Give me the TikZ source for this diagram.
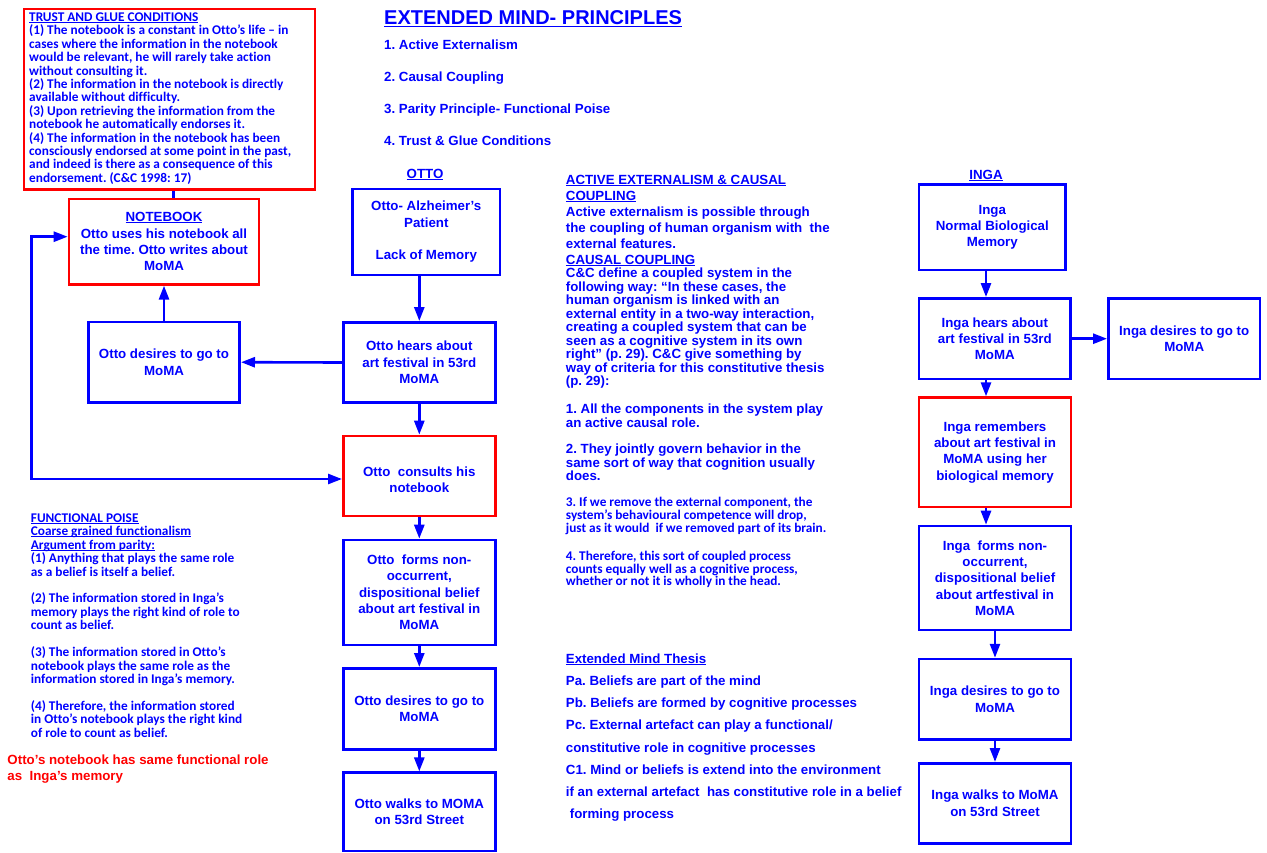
\documentclass[tikz,border=0pt]{standalone}
\usepackage{fontspec}
\setmainfont{Liberation Sans}
\newfontfamily\calfont{Carlito}[Ligatures=NoCommon]
\usetikzlibrary{arrows.meta}

\definecolor{ublue}{RGB}{0,0,255}
\definecolor{ured}{RGB}{255,0,0}

% underline drawn just below the baseline
\newlength\ulwd
\newcommand\ulinetext[1]{\settowidth{\ulwd}{#1}\rlap{\rule[-0.12em]{\ulwd}{0.075em}}#1}
\newcommand\boxfont{\fontsize{13.3}{16.3}\selectfont\bfseries}

\begin{document}
\frenchspacing
\begin{tikzpicture}[x=1pt,y=-1pt,
  box/.style={draw=ublue, line width=2.6pt, text=ublue, font=\boxfont, align=center, inner sep=0pt, rectangle},
  redbox/.style={box, draw=ured},
  wh/.style 2 args={minimum width=#1pt, minimum height=#2pt},
  link/.style={draw=ublue, line width=2.6pt},
  arr/.style={link, -{Triangle[length=14pt,width=10pt]}},
  note/.style={text=ublue, align=left, inner sep=0pt, anchor=west},
]
\useasboundingbox (0,0) rectangle (1267,852);

% ---------- heading ----------
\node[note, font=\fontsize{20}{24}\selectfont\bfseries] (title) at (384,19) {\ulinetext{EXTENDED MIND- PRINCIPLES}};
\node[note, font=\fontsize{13.3}{31.9}\selectfont\bfseries] (principles) at (384,92.5) {1. Active Externalism\\2. Causal Coupling\\3. Parity Principle- Functional Poise\\4. Trust \& Glue Conditions};

% ---------- trust and glue ----------
\node[redbox, wh={291}{180.3}] (trust) at (169.5,99.2) {};
\node[note, font={\fontsize{13.3}{13.4}\calfont\bfseries}] (trusttext) at (29,98.5) {\ulinetext{TRUST AND GLUE CONDITIONS}\\
(1) The notebook is a constant in Otto’s life – in\\
cases where the information in the notebook\\
would be relevant, he will rarely take action\\
without consulting it.\\
(2) The information in the notebook is directly\\
available without difficulty.\\
(3) Upon retrieving the information from the\\
notebook he automatically endorses it.\\
(4) The information in the notebook has been\\
consciously endorsed at some point in the past,\\
and indeed is there as a consequence of this\\
endorsement. (C\&C 1998: 17)};

% ---------- notebook side ----------
\node[redbox, wh={190}{85.3}] (nb) at (164,241.7) {\ulinetext{NOTEBOOK}\\Otto uses his notebook all\\the time. Otto writes about\\MoMA};
\node[box, wh={151.4}{80.3}] (dl) at (164,362.2) {Otto desires to go to\\MoMA};

% ---------- Otto column ----------
\node[text=ublue, font=\boxfont, inner sep=0pt] (ottolabel) at (425,175) {\ulinetext{OTTO}};
\node[box, wh={147.3}{86}] (o1) at (426.3,232) {Otto- Alzheimer’s\\Patient\\~\\Lack of Memory};
\node[box, wh={152}{80.4}] (o2) at (419.3,362.5) {Otto hears about\\art festival in 53rd\\MoMA};
\node[redbox, wh={152}{80}] (o3) at (419.3,476) {};
\node[text=ublue, font=\boxfont, align=center, inner sep=0pt] (o3text) at ([yshift=-4pt]o3.center) {Otto\ \ consults his\\notebook};
\node[box, wh={152}{105}] (o4) at (419.3,592.5) {Otto\ \ forms non-\\occurrent,\\dispositional belief\\about art festival in\\MoMA};
\node[box, wh={152}{81}] (o5) at (419.3,708.8) {Otto desires to go to\\MoMA};
\node[box, wh={152}{78.3}] (o6) at (419.3,811.9) {Otto walks to MOMA\\on 53rd Street};

% ---------- Inga column ----------
\node[text=ublue, font=\boxfont, inner sep=0pt] (ingalabel) at (986,176) {\ulinetext{INGA}};
\node[box, wh={146.7}{85.7}] (i1) at (992.3,227.2) {Inga\\Normal Biological\\Memory};
\node[box, wh={151.7}{80.7}] (i2) at (994.8,338.7) {Inga hears about\\art festival in 53rd\\MoMA};
\node[box, wh={151.7}{80.7}] (ir) at (1184.2,338.7) {Inga desires to go to\\MoMA};
\node[redbox, wh={152}{109.3}] (i3) at (995,452.3) {Inga remembers\\about art festival in\\MoMA using her\\biological memory};
\node[box, wh={152}{104}] (i4) at (995,578) {Inga\ \ forms non-\\occurrent,\\dispositional belief\\about artfestival in\\MoMA};
\node[box, wh={152}{80.3}] (i5) at (995,699.2) {Inga desires to go to\\MoMA};
\node[box, wh={152}{80}] (i6) at (995,803.3) {Inga walks to MoMA\\on 53rd Street};

% ---------- connectors ----------
\coordinate (tn) at ([xshift=9.3pt]nb.north);
\draw[link] (tn) -- (tn |- trust.south);
\draw[arr] (dl.north) -- (nb.south);
\draw[arr] (o1.south -| o2.north) -- (o2.north);
\draw[arr] (o2.west) -- (dl.east);
\draw[arr] (o2.south) -- (o3.north);
\draw[arr] (o3.south) -- (o4.north);
\draw[arr] (o4.south) -- (o5.north);
\draw[arr] (o5.south) -- (o6.north);

\coordinate (lx) at (31.5,0);
\coordinate (nbin) at ([yshift=5pt]nb.west);
\coordinate (cin) at ([yshift=-3pt]o3.west);
\draw[link, {Triangle[length=14pt,width=10pt]}-{Triangle[length=14pt,width=10pt]}]
  (nbin) -- (lx |- nbin) -- (lx |- cin) -- (cin);

\coordinate (ia) at ([xshift=-6.3pt]i1.south);
\draw[arr] (ia) -- (ia |- i2.north);
\coordinate (ib) at ([xshift=-8.8pt]i2.south);
\draw[arr] (ib) -- (ib |- i3.north);
\coordinate (ic) at ([xshift=-9pt]i3.south);
\draw[arr] (ic) -- (ic |- i4.north);
\draw[arr] (i2.east) -- (ir.west);
\draw[arr] (i4.south) -- (i5.north);
\draw[arr] (i5.south) -- (i6.north);

% ---------- middle column ----------
\node[note, font={\fontsize{13.3}{16}\selectfont\bfseries}] (aeA) at (565.7,220.7) {\ulinetext{ACTIVE EXTERNALISM \& CAUSAL}\\
\ulinetext{COUPLING}\\
Active externalism is possible through\\
the coupling of human organism with\ \ the\\
external features.\\
\ulinetext{CAUSAL COUPLING}};
\node[note, font={\fontsize{13.3}{13.5}\selectfont\bfseries}] (aeB) at (565.7,328.3) {C\&C define a coupled system in the\\
following way: “In these cases, the\\
human organism is linked with an\\
external entity in a two-way interaction,\\
creating a coupled system that can be\\
seen as a cognitive system in its own\\
right” (p. 29). C\&C give something by\\
way of criteria for this constitutive thesis\\
(p. 29):};
\node[note, font={\fontsize{13.3}{14}\selectfont\bfseries}] (aeC) at (565.7,415.3) {1. All the components in the system play\\an active causal role.};
\node[note, font={\fontsize{13.3}{13.5}\selectfont\bfseries}] (aeD) at (565.7,462.5) {2. They jointly govern behavior in the\\same sort of way that cognition usually\\does.};
\node[note, font={\fontsize{13.3}{13.1}\calfont\bfseries}] (aeE) at (565.7,516.3) {3. If we remove the external component, the\\system’s behavioural competence will drop,\\just as it would\ \ if we removed part of its brain.};
\node[note, font={\fontsize{13.3}{12.6}\calfont\bfseries}] (aeF) at (565.7,569.6) {4. Therefore, this sort of coupled process\\counts equally well as a cognitive process,\\whether or not it is wholly in the head.};

\node[note, font={\fontsize{13.3}{22.24}\selectfont\bfseries}] (emt) at (565.7,737.5) {\ulinetext{Extended Mind Thesis}\\
Pa. Beliefs are part of the mind\\
Pb. Beliefs are formed by cognitive processes\\
Pc. External artefact can play a functional/\\
constitutive role in cognitive processes\\
C1. Mind or beliefs is extend into the environment\\
if an external artefact\ \ has constitutive role in a belief\\
\hspace*{4pt}forming process};

% ---------- functional poise ----------
\node[note, font={\fontsize{13.3}{13.44}\calfont\bfseries}] (fp) at (30.7,625.5) {\ulinetext{FUNCTIONAL POISE}\\
\ulinetext{Coarse grained functionalism}\\
\ulinetext{Argument from parity:}\\
(1) Anything that plays the same role\\
as a belief is itself a belief.\\[13.44pt]
(2) The information stored in Inga’s\\
memory plays the right kind of role to\\
count as belief.\\[13.44pt]
(3) The information stored in Otto’s\\
notebook plays the same role as the\\
information stored in Inga’s memory.\\[13.44pt]
(4) Therefore, the information stored\\
in Otto’s notebook plays the right kind\\
of role to count as belief.};

\node[note, text=ured, font=\boxfont] (fpnote) at (7.3,769) {Otto’s notebook has same functional role\\as\ \ Inga’s memory};
\end{tikzpicture}
\end{document}
